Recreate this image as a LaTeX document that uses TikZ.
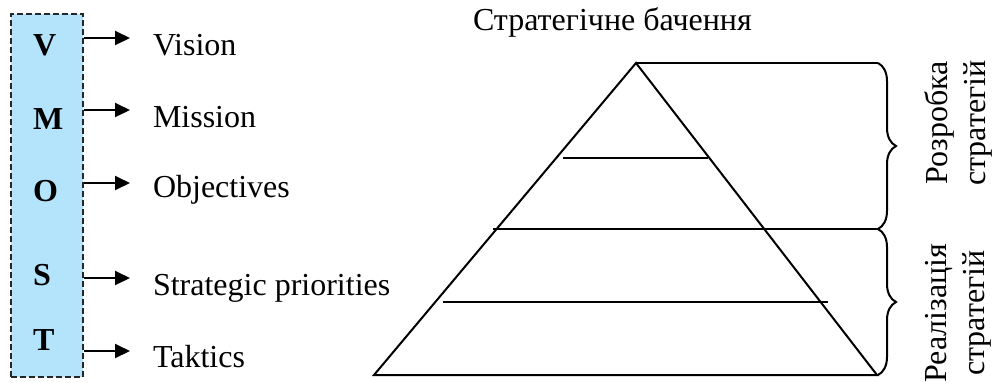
\documentclass[tikz,border=0pt]{standalone}
\usepackage{fontspec}
\setmainfont{Liberation Serif}
\usetikzlibrary{arrows.meta,decorations.pathreplacing}
\definecolor{boxblue}{RGB}{180,228,252}

\begin{document}
\begin{tikzpicture}[x=0.5pt,y=-0.5pt,line width=1pt,
  txt/.style={font=\fontsize{16}{19}\selectfont,inner sep=0pt,anchor=base west},
  letter/.style={txt,font=\fontsize{16}{19}\selectfont\bfseries},
  arr/.style={-{Triangle[length=7.5pt,width=7pt]}},
  brc/.style={decorate,decoration={brace,amplitude=9pt}},
  rot/.style={font=\fontsize{16}{19}\selectfont,inner sep=0pt,rotate=90,align=center}]
\useasboundingbox (0,0) rectangle (992,382);

% VMOST column
\node[draw=black!85,dashed,dash pattern=on 3pt off 1.5pt,line width=0.8pt,
      fill=boxblue,minimum width=36pt,minimum height=181.5pt,inner sep=0pt]
      (box) at (47,195.5) {};
\node[letter] (lV) at (32,55) {V};
\node[letter] (lM) at (32,129) {M};
\node[letter] (lO) at (32,201) {O};
\node[letter] (lS) at (32,285) {S};
\node[letter] (lT) at (32,350) {T};

% arrow ends
\coordinate (aV) at (130,38);
\coordinate (aM) at (130,110);
\coordinate (aO) at (130,183);
\coordinate (aS) at (130,278);
\coordinate (aT) at (130,351);
\foreach \a in {aV,aM,aO,aS,aT}
  \draw[arr] (box.east |- \a) -- (\a);

% meanings
\node[txt] (tV) at (152,55) {Vision};
\node[txt] (tM) at (152,127) {Mission};
\node[txt] (tO) at (152,197) {Objectives};
\node[txt] (tS) at (152,295) {Strategic priorities};
\node[txt] (tT) at (152,367) {Taktics};

% pyramid
\node[txt] (title) at (472,30) {Стратегічне бачення};
\coordinate (apex) at (636,63);
\coordinate (bl) at (374,375);
\coordinate (br) at (877,375);
\draw[miter limit=20] (bl) -- (apex) -- (br) -- cycle;
\coordinate (topR) at (878,63);
\coordinate (midR) at (878,229);
\coordinate (botR) at (878,375);
\draw (apex) -- (topR);
\draw (563,158) -- (708,158);
\draw (493,229) -- (midR);
\draw (443,302) -- (828,302);

% braces and their labels
\draw[brc] (topR) -- (midR);
\draw[brc] (midR) -- (botR);
\node[rot] (dev) at (958,123) {Розробка\\стратегій};
\node[rot] (impl) at (958,313) {Реалізація\\стратегій};
\end{tikzpicture}
\end{document}
